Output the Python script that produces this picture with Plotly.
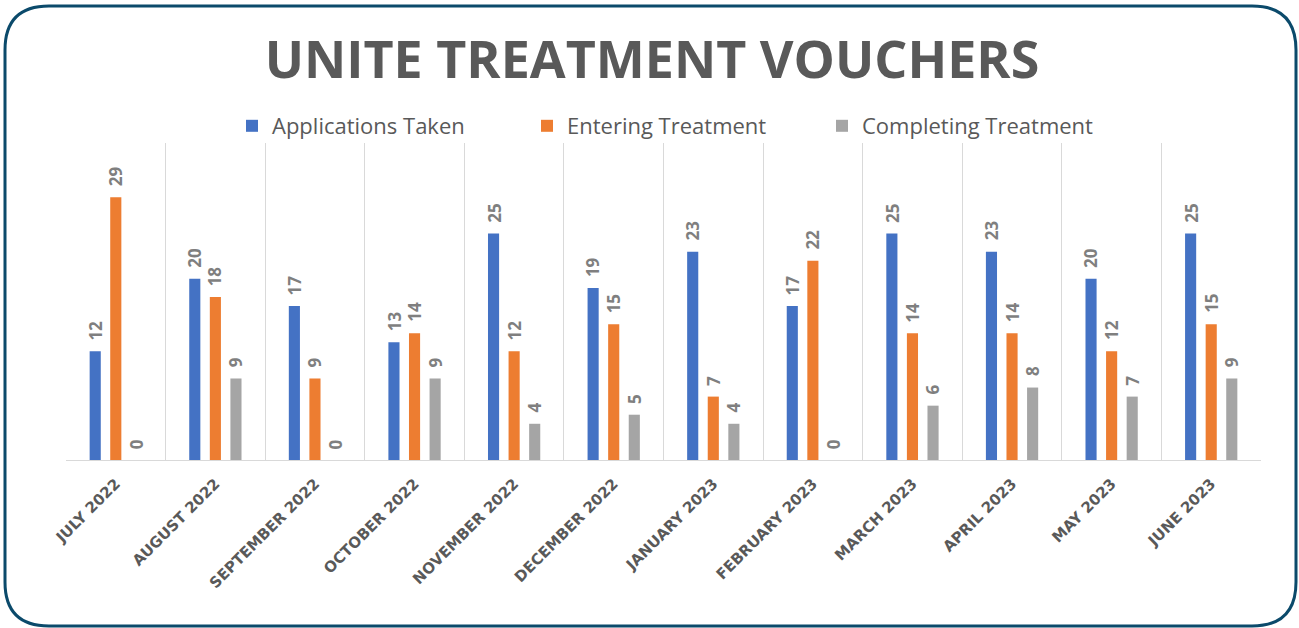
import plotly.graph_objects as go

months = ["JULY 2022", "AUGUST 2022", "SEPTEMBER 2022", "OCTOBER 2022", "NOVEMBER 2022",
          "DECEMBER 2022", "JANUARY 2023", "FEBRUARY 2023", "MARCH 2023", "APRIL 2023",
          "MAY 2023", "JUNE 2023"]
applications = [12, 20, 17, 13, 25, 19, 23, 17, 25, 23, 20, 25]
entering = [29, 18, 9, 14, 12, 15, 7, 22, 14, 14, 12, 15]
completing = [0, 9, 0, 9, 4, 5, 4, 0, 6, 8, 7, 9]

W, H = 1299, 628
L, R, T, B = 66, 1261, 143, 460

def px(x):
    return (x - L) / (R - L)

def py(y):
    return (B - y) / (B - T)

fig = go.Figure()
series = [("Applications Taken", applications, "#4472C4"),
          ("Entering Treatment", entering, "#ED7D31"),
          ("Completing Treatment", completing, "#A5A5A5")]
slot = 20.5
for i, (name, vals, col) in enumerate(series):
    fig.add_trace(go.Bar(
        x=months, y=vals, name=name, marker=dict(color=col, line=dict(width=0)),
        cliponaxis=False,
    ))
    for m, v in zip(months, vals):
        fig.add_annotation(
            x=m, y=v, xref="x", yref="y", text=f"<b>{v}</b>", showarrow=False,
            textangle=-90, xanchor="center", yanchor="bottom",
            xshift=(i - 1) * slot, yshift=9,
            font=dict(family="Open Sans", size=17, color="#7F7F7F"),
        )

# rounded border
x0, x1, y0, y1, r = 5, 1296, 6, 626, 44
path = (f"M {px(x0+r)},{py(y0)} L {px(x1-r)},{py(y0)} Q {px(x1)},{py(y0)} {px(x1)},{py(y0+r)} "
        f"L {px(x1)},{py(y1-r)} Q {px(x1)},{py(y1)} {px(x1-r)},{py(y1)} "
        f"L {px(x0+r)},{py(y1)} Q {px(x0)},{py(y1)} {px(x0)},{py(y1-r)} "
        f"L {px(x0)},{py(y0+r)} Q {px(x0)},{py(y0)} {px(x0+r)},{py(y0)} Z")
fig.add_shape(type="path", path=path, xref="paper", yref="paper",
              line=dict(color="#0B4A6B", width=3), layer="above")

fig.update_layout(
    width=W, height=H,
    margin=dict(l=L, r=W - R, t=T, b=H - B, autoexpand=False),
    paper_bgcolor="white", plot_bgcolor="white",
    barmode="group", bargap=0.38, bargroupgap=0.46,
    title=dict(text="<b>UNITE TREATMENT VOUCHERS</b>", x=652 / W, xanchor="center",
               y=1 - 60 / H, yanchor="middle",
               font=dict(family="Open Sans", size=52, color="#595959")),
    legend=dict(orientation="h", x=0.5 + 11 / (R - L), xanchor="center", y=py(126), yanchor="middle",
                font=dict(family="Open Sans", size=22, color="#595959"),
                entrywidth=250, entrywidthmode="pixels", itemwidth=30,
                bgcolor="rgba(0,0,0,0)"),
    showlegend=True,
    xaxis=dict(type="category", tickson="boundaries", showgrid=True, gridcolor="#D9D9D9",
               gridwidth=1, showline=True, linecolor="#D9D9D9", linewidth=1,
               ticks="", tickangle=-45, ticklabelstandoff=8,
               tickfont=dict(family="DejaVu Sans", size=15, color="#595959", weight="bold")),
    yaxis=dict(range=[0, 35], visible=False, showgrid=False, zeroline=False),
)

fig.write_html("out.html", config={"displayModeBar": False},
               post_script="document.body.style.margin='0';")
